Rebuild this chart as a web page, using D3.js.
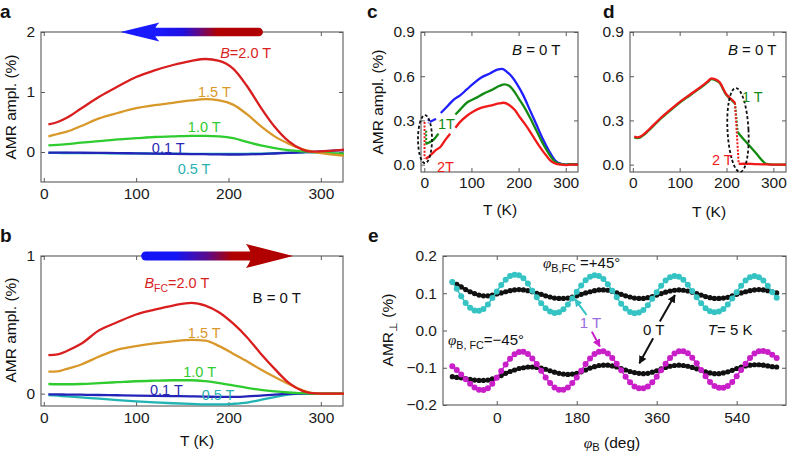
<!DOCTYPE html>
<html><head><meta charset="utf-8">
<script src="https://cdn.jsdelivr.net/npm/d3@7"></script>
<style>
body{margin:0;background:#fff;}
svg{display:block;}
</style></head><body>
<svg id="fig" width="788" height="455"></svg>
<script>
// ---------------- DATA ----------------
// panels a & b : temperature grid (K)
const tempAB = [5,15,25,40,60,80,100,120,140,160,175,190,205,220,235,250,265,280,290,300,310,325];
// panel a : AMR amplitude (%) in field B
const a_2_0 = [0.46,0.50,0.57,0.72,0.92,1.09,1.25,1.36,1.45,1.52,1.55,1.52,1.39,1.10,0.74,0.42,0.18,0.04,0.005,0.01,0.02,0.04];
const a_1_5 = [0.26,0.30,0.34,0.43,0.56,0.65,0.73,0.78,0.82,0.86,0.88,0.86,0.79,0.63,0.43,0.26,0.14,0.05,0.01,-0.02,-0.04,-0.06];
const a_1_0 = [0.11,0.12,0.13,0.155,0.18,0.21,0.23,0.25,0.26,0.27,0.27,0.26,0.23,0.17,0.11,0.065,0.03,0.01,0.0,-0.01,-0.02,-0.03];
const a_0_1 = [-0.01,-0.01,-0.01,-0.012,-0.015,-0.018,-0.022,-0.026,-0.03,-0.034,-0.037,-0.04,-0.042,-0.04,-0.034,-0.025,-0.014,-0.005,0,0.01,0.02,0.03];
const a_0_5 = [-0.015,-0.016,-0.017,-0.018,-0.02,-0.022,-0.024,-0.026,-0.028,-0.03,-0.031,-0.032,-0.032,-0.03,-0.026,-0.02,-0.012,-0.005,0,-0.01,-0.02,-0.035];
// panel b : AMR amplitude (%) at B = 0 after field cooling in B_FC
const b_2_0 = [0.28,0.285,0.31,0.36,0.46,0.52,0.575,0.61,0.64,0.66,0.64,0.59,0.51,0.41,0.29,0.18,0.08,0.02,0.003,0,0,0];
const b_1_5 = [0.16,0.162,0.18,0.21,0.27,0.32,0.345,0.365,0.38,0.39,0.385,0.345,0.29,0.235,0.175,0.12,0.07,0.025,0.005,0,0,0];
const b_1_0 = [0.07,0.068,0.068,0.07,0.076,0.083,0.09,0.094,0.097,0.097,0.09,0.077,0.06,0.042,0.027,0.016,0.008,0.003,0,0,0,0];
const b_0_1 = [-0.005,-0.006,-0.007,-0.008,-0.01,-0.012,-0.014,-0.016,-0.018,-0.02,-0.022,-0.024,-0.024,-0.02,-0.014,-0.007,-0.002,0,0,0,0,0];
const b_0_5 = [-0.01,-0.015,-0.02,-0.027,-0.037,-0.047,-0.056,-0.064,-0.07,-0.075,-0.078,-0.078,-0.074,-0.065,-0.045,-0.025,-0.008,0,0,0,0,0];
// panel c
const c_blueT  = [12,18,25,30,35,50,62,76,90,104,120,140,155,165,175,185,196,210,224,238,252,265,277,290,300,310,326];
const c_blue   = [0.29,0.30,0.31,null,0.35,0.40,0.44,0.47,0.51,0.55,0.59,0.62,0.645,0.65,0.63,0.60,0.55,0.47,0.37,0.27,0.17,0.09,0.03,0.005,0,0.004,0.002];
const c_greenT = [3,10,20,30,45,66,75,90,108,125,145,160,170,180,190,200,212,224,238,252,265,277,290,300,310,326];
const c_green  = [0.14,0.15,0.17,0.21,null,0.34,0.37,0.42,0.45,0.48,0.51,0.535,0.545,0.535,0.50,0.45,0.39,0.32,0.23,0.14,0.07,0.02,0.003,0,0.003,0];
const c_redT   = [3,8,15,25,34,45,55,60,66,76,90,104,120,140,158,168,180,192,203,217,231,245,259,270,280,290,300,310,326];
const c_red    = [0.04,0.05,0.07,0.10,0.12,0.17,0.21,null,0.25,0.29,0.33,0.36,0.385,0.40,0.415,0.42,0.405,0.37,0.32,0.26,0.19,0.12,0.06,0.02,0.005,0,-0.003,0,0];
const c_jumpT    = [0.5,4,9];        // red, green, blue low-T jumps (dotted)
const c_jumpFrom = [0.29,0.23,0.31];
const c_jumpTo   = [0.04,0.14,0.28];
// panel d
const d_T    = [3,10,16,25,35,44,60,79,97,115,133,150,160,168,175,185,199,210,218];
const d_main = [0.19,0.185,0.19,0.21,0.24,0.268,0.318,0.37,0.418,0.46,0.50,0.54,0.565,0.585,0.58,0.56,0.48,0.445,0.42];
const d_redDropT = [218,226], d_redDrop = [0.42,0.005];
const d_grnDropT = [218,224], d_grnDrop = [0.42,0.22];
const d_redTailT = [226,240,260,280,300,327], d_redTail = [0.005,0.006,0.004,0.002,0,0];
const d_grnTailT = [224,237,250,265,277,285,300,327], d_grnTail = [0.22,0.17,0.125,0.07,0.025,0.005,0,0];
// panel e : AMR_perp (%) vs phi_B (deg), 10 deg steps from -100 to 630
const phiB = d3.range(-100, 631, 10);
const e_cyan = [
 0.130,0.112,0.092,0.074,0.061,0.054,0.053,0.058,0.070,0.087,
 0.105,0.122,0.136,0.146,0.150,0.148,0.140,0.126,0.107,0.089,
 0.073,0.060,0.051,0.047,0.049,0.057,0.070,0.086,0.104,0.121,
 0.135,0.144,0.148,0.146,0.138,0.124,0.107,0.089,0.072,0.059,
 0.050,0.046,0.048,0.055,0.068,0.085,0.103,0.120,0.134,0.143,
 0.146,0.144,0.136,0.123,0.106,0.089,0.073,0.060,0.052,0.049,
 0.051,0.058,0.070,0.086,0.103,0.120,0.134,0.143,0.146,0.143,
 0.134,0.120,0.103,0.088];
const e_blackUp = [
 0.130,0.124,0.117,0.110,0.104,0.099,0.095,0.093,0.093,0.095,
 0.098,0.101,0.104,0.107,0.109,0.110,0.109,0.107,0.104,0.100,
 0.097,0.093,0.090,0.087,0.086,0.086,0.087,0.090,0.093,0.097,
 0.101,0.104,0.107,0.109,0.109,0.108,0.105,0.101,0.097,0.093,
 0.090,0.087,0.086,0.086,0.088,0.091,0.095,0.099,0.103,0.106,
 0.108,0.109,0.108,0.106,0.103,0.099,0.095,0.091,0.088,0.086,
 0.086,0.087,0.089,0.093,0.097,0.101,0.104,0.107,0.109,0.110,
 0.109,0.107,0.104,0.101];
const e_magenta = [
 -0.096,-0.106,-0.118,-0.131,-0.143,-0.153,-0.159,-0.160,-0.155,-0.143,
 -0.127,-0.109,-0.091,-0.076,-0.064,-0.058,-0.057,-0.063,-0.075,-0.090,
 -0.108,-0.126,-0.141,-0.153,-0.159,-0.159,-0.153,-0.141,-0.126,-0.108,
 -0.090,-0.075,-0.063,-0.057,-0.056,-0.062,-0.074,-0.089,-0.107,-0.124,
 -0.139,-0.150,-0.155,-0.155,-0.150,-0.139,-0.124,-0.107,-0.089,-0.074,
 -0.062,-0.056,-0.056,-0.061,-0.073,-0.088,-0.106,-0.123,-0.138,-0.149,
 -0.154,-0.154,-0.149,-0.138,-0.123,-0.106,-0.089,-0.074,-0.062,-0.056,
 -0.055,-0.058,-0.065,-0.074];
const e_blackLow = [
 -0.124,-0.126,-0.127,-0.129,-0.131,-0.133,-0.134,-0.134,-0.133,-0.130,
 -0.126,-0.121,-0.115,-0.110,-0.106,-0.102,-0.100,-0.098,-0.098,-0.099,
 -0.101,-0.104,-0.108,-0.112,-0.115,-0.117,-0.118,-0.117,-0.115,-0.111,
 -0.106,-0.101,-0.097,-0.094,-0.093,-0.093,-0.095,-0.098,-0.102,-0.106,
 -0.110,-0.113,-0.115,-0.116,-0.115,-0.112,-0.108,-0.103,-0.099,-0.096,
 -0.094,-0.093,-0.094,-0.096,-0.099,-0.103,-0.107,-0.111,-0.114,-0.116,
 -0.116,-0.114,-0.111,-0.107,-0.102,-0.098,-0.095,-0.093,-0.092,-0.092,
 -0.093,-0.095,-0.097,-0.098];
// tick values
const tTicks = [0,100,200,300];
const aYTicks = [0,1,2];
const bYTicks = [0,1];
const cdYTicks = [0,0.3,0.6,0.9];
const eXTicks = [0,180,360,540];
const eYTicks = [-0.2,-0.1,0,0.1,0.2];

// ---------------- DRAWING ----------------
const FF = '"Liberation Sans", Arial, Helvetica, sans-serif';
const SERIF = '"Liberation Serif", "DejaVu Serif", serif';
const FRAME = "#5a5a5a";
const TICK = 15.5, LAB = 14.5;
const svg = d3.select("#fig").attr("font-family", FF);
const defs = svg.append("defs");

function makePanel(box, xd, yd, xt, yt, xf, yf, xpad) {
  const x = d3.scaleLinear().domain(xd).range([box.l, box.r]);
  const y = d3.scaleLinear().domain(yd).range([box.b, box.t]);
  const g = svg.append("g");
  const style = (s, keep) => {
    s.select(".domain").remove();
    s.attr("font-family", null).attr("font-size", null);
    s.selectAll(".tick line").attr("stroke", FRAME).attr("stroke-width", 1);
    if (keep) s.selectAll("text").attr("font-size", TICK).attr("fill", "#1a1a1a").attr("font-family", FF);
    else s.selectAll("text").remove();
  };
  g.append("g").attr("transform", `translate(0,${box.b})`)
    .call(d3.axisBottom(x).tickValues(xt).tickFormat(xf).tickSizeInner(-4).tickSizeOuter(0).tickPadding(xpad)).call(s => style(s, true));
  g.append("g").attr("transform", `translate(0,${box.t})`)
    .call(d3.axisTop(x).tickValues(xt).tickSizeInner(-4).tickSizeOuter(0)).call(s => style(s, false));
  g.append("g").attr("transform", `translate(${box.l},0)`)
    .call(d3.axisLeft(y).tickValues(yt).tickFormat(yf).tickSizeInner(-4).tickSizeOuter(0).tickPadding(6)).call(s => style(s, true));
  g.append("g").attr("transform", `translate(${box.r},0)`)
    .call(d3.axisRight(y).tickValues(yt).tickSizeInner(-4).tickSizeOuter(0)).call(s => style(s, false));
  g.append("rect").attr("x", box.l).attr("y", box.t).attr("width", box.r - box.l).attr("height", box.b - box.t)
    .attr("fill", "none").attr("stroke", FRAME).attr("stroke-width", 1.1);
  return {x, y, g, box};
}

function curve(p, xs, ys, color, w = 2.3, dash = null, shift = 0) {
  const pts = xs.map((t, i) => [t, ys[i]]);
  const line = d3.line().defined(d => d[1] !== null)
    .x(d => p.x(d[0])).y(d => p.y(d[1]) + shift).curve(d3.curveMonotoneX);
  p.g.append("path").datum(pts).attr("d", line).attr("fill", "none")
    .attr("stroke", color).attr("stroke-width", w).attr("stroke-linejoin", "round")
    .attr("stroke-dasharray", dash);
}

function rich(g, x, y, parts, o = {}) {
  const size = o.size || LAB;
  const subDy = o.subDy !== undefined ? o.subDy : size * 0.28;
  const t = g.append("text").attr("x", x).attr("y", y).attr("font-size", size)
    .attr("fill", o.color || "#111").attr("text-anchor", o.anchor || "start").attr("font-family", FF);
  if (o.transform) t.attr("transform", o.transform);
  let sub = false;
  parts.forEach(p => {
    const s = t.append("tspan").text(p.t);
    if (p.i) s.attr("font-style", "italic");
    if (p.f) s.attr("font-family", p.f);
    if (p.sub) { s.attr("font-size", size * 0.72); if (!sub) { s.attr("dy", subDy); sub = true; } }
    else if (sub) { s.attr("dy", -subDy); sub = false; }
  });
  return t;
}

function letter(s, x, y) {
  svg.append("text").attr("x", x).attr("y", y).text(s).attr("font-size", 19).attr("font-weight", "bold").attr("fill", "#111");
}
function yTitle(parts, cx, cy) {
  rich(svg, 0, 0, parts, {size: TICK, anchor: "middle", transform: `translate(${cx + 5.5},${cy}) rotate(-90)`});
}

const fD = d3.format("d"), f1 = d3.format(".1f");

// ===== panel a =====
const pa = makePanel({l: 41, r: 343, t: 32, b: 182}, [-3, 324], [-0.5, 2], tTicks, aYTicks, fD, fD, 6);
curve(pa, tempAB, a_0_5, "#22b3b3");
curve(pa, tempAB, a_0_1, "#2424b8");
curve(pa, tempAB, a_1_0, "#2fcc2f");
curve(pa, tempAB, a_1_5, "#d9982a");
curve(pa, tempAB, a_2_0, "#d81e1e");
letter("a", 0, 18);
yTitle([{t: "AMR ampl. (%)"}], 10.5, 107);
rich(pa.g, pa.x(191), pa.y(1.56), [{t: "B", i: true}, {t: "=2.0 T"}], {color: "#d81e1e"});
rich(pa.g, pa.x(167), pa.y(0.91), [{t: "1.5 T"}], {color: "#d9982a"});
rich(pa.g, pa.x(156), pa.y(0.34), [{t: "1.0 T"}], {color: "#2fcc2f"});
rich(pa.g, pa.x(117), pa.y(-0.01), [{t: "0.1 T"}], {color: "#2a2ab0"});
rich(pa.g, pa.x(145), pa.y(-0.36), [{t: "0.5 T"}], {color: "#2ab0b0"});
// arrow a (cooling direction: right -> left)
{
  const yA = pa.y(2), xTail = pa.x(237), xTip = pa.x(83), xBack = pa.x(122);
  const gr = defs.append("linearGradient").attr("id", "gA").attr("gradientUnits", "userSpaceOnUse")
    .attr("x1", xTail).attr("x2", xBack).attr("y1", 0).attr("y2", 0);
  [[0, "#b00000"], [0.42, "#b00000"], [0.62, "#5a0a90"], [0.75, "#2010e0"], [1, "#1a1aff"]]
    .forEach(s => gr.append("stop").attr("offset", s[0]).attr("stop-color", s[1]));
  pa.g.append("line").attr("x1", xBack - 4).attr("x2", xTail - 4).attr("y1", yA).attr("y2", yA)
    .attr("stroke", "url(#gA)").attr("stroke-width", 8.5).attr("stroke-linecap", "round");
  pa.g.append("path").attr("d", `M${xTip},${yA} L${xBack + 3},${yA - 9.5} Q${xBack - 7},${yA} ${xBack + 3},${yA + 9.5} Z`)
    .attr("fill", "#1a1aff");
}

// ===== panel b =====
const pb = makePanel({l: 41, r: 343, t: 256, b: 406}, [-3, 324], [-0.09, 1], tTicks, bYTicks, fD, fD, 6);
curve(pb, tempAB, b_0_5, "#22b3b3");
curve(pb, tempAB, b_0_1, "#2424b8");
curve(pb, tempAB, b_1_0, "#2fcc2f");
curve(pb, tempAB, b_1_5, "#d9982a");
curve(pb, tempAB, b_2_0, "#d81e1e");
letter("b", 0, 242);
yTitle([{t: "AMR ampl. (%)"}], 10.5, 330);
rich(svg, 197, 446, [{t: "T (K)"}], {size: TICK, anchor: "middle"});
rich(pb.g, pb.x(109), pb.y(0.767), [{t: "B", i: true}, {t: "FC", sub: true}, {t: "=2.0 T"}], {color: "#d81e1e"});
rich(pb.g, pb.x(226), pb.y(0.658), [{t: "B = 0  T"}], {size: 15});
rich(pb.g, pb.x(156), pb.y(0.404), [{t: "1.5 T"}], {color: "#d9982a"});
rich(pb.g, pb.x(151), pb.y(0.123), [{t: "1.0 T"}], {color: "#2fcc2f"});
rich(pb.g, pb.x(115), pb.y(-0.01), [{t: "0.1 T"}], {color: "#2a2ab0"});
rich(pb.g, pb.x(171), pb.y(-0.047), [{t: "0.5 T"}], {color: "#2ab0b0"});
// arrow b (warming direction: left -> right)
{
  const yB = pb.y(1), xTail = pb.x(106), xTip = pb.x(270), xBack = pb.x(221);
  const gr = defs.append("linearGradient").attr("id", "gB").attr("gradientUnits", "userSpaceOnUse")
    .attr("x1", xTail).attr("x2", xBack).attr("y1", 0).attr("y2", 0);
  [[0, "#1414f5"], [0.32, "#1414f5"], [0.62, "#5a0a8a"], [0.85, "#b00000"], [1, "#b00000"]]
    .forEach(s => gr.append("stop").attr("offset", s[0]).attr("stop-color", s[1]));
  pb.g.append("line").attr("x1", xTail + 4).attr("x2", xBack + 4).attr("y1", yB).attr("y2", yB)
    .attr("stroke", "url(#gB)").attr("stroke-width", 9).attr("stroke-linecap", "round");
  pb.g.append("path").attr("d", `M${xTip},${yB} L${xBack - 2},${yB - 12} Q${xBack + 8},${yB} ${xBack - 2},${yB + 12} Z`)
    .attr("fill", "#b00000");
}

// ===== panel c =====
const pc = makePanel({l: 421, r: 578, t: 32, b: 172}, [-7, 326], [-0.05, 0.9], tTicks, cdYTicks, fD, f1, 5);
curve(pc, c_blueT, c_blue, "#1f1fff");
curve(pc, c_greenT, c_green, "#138a13");
curve(pc, c_redT, c_red, "#f01a1a");
["#f01a1a", "#138a13", "#1f1fff"].forEach((col, i) =>
  curve(pc, [c_jumpT[i], c_jumpT[i]], [c_jumpFrom[i], c_jumpTo[i]], col, 2, "2,1.6"));
pc.g.append("ellipse").attr("cx", pc.x(1.5)).attr("cy", pc.y(0.173)).attr("rx", 7).attr("ry", 24)
  .attr("fill", "none").attr("stroke", "#111").attr("stroke-width", 1.8).attr("stroke-dasharray", "3,2.2");
letter("c", 367, 18);
yTitle([{t: "AMR ampl. (%)"}], 377, 102);
rich(svg, 500, 215, [{t: "T (K)"}], {size: TICK, anchor: "middle"});
rich(pc.g, pc.x(186), pc.y(0.744), [{t: "B", i: true}, {t: " = 0  T"}], {size: 15});
rich(pc.g, pc.x(29), pc.y(0.245), [{t: "1T"}], {color: "#138a13"});
rich(pc.g, pc.x(27), pc.y(-0.05), [{t: "2T"}], {color: "#f01a1a"});

// ===== panel d =====
const pd = makePanel({l: 630, r: 786, t: 32, b: 172}, [-6, 327], [-0.05, 0.9], tTicks, cdYTicks, fD, f1, 5);
curve(pd, d_T, d_main, "#138a13", 2.3, null, 0.7);
curve(pd, d_grnDropT, d_grnDrop, "#138a13", 2, "2,1.6");
curve(pd, d_grnTailT, d_grnTail, "#138a13");
curve(pd, d_T, d_main, "#f01a1a");
curve(pd, d_redDropT, d_redDrop, "#f01a1a", 2, "2,1.6");
curve(pd, d_redTailT, d_redTail, "#f01a1a");
pd.g.append("ellipse").attr("cx", pd.x(224.5)).attr("cy", pd.y(0.235)).attr("rx", 10.5).attr("ry", 42)
  .attr("transform", `rotate(-3,${pd.x(224.5)},${pd.y(0.235)})`)
  .attr("fill", "none").attr("stroke", "#111").attr("stroke-width", 1.8).attr("stroke-dasharray", "3,2.2");
letter("d", 603, 18);
rich(svg, 709, 217, [{t: "T (K)"}], {size: TICK, anchor: "middle"});
rich(pd.g, pd.x(203), pd.y(0.744), [{t: "B", i: true}, {t: " = 0  T"}], {size: 15});
rich(pd.g, pd.x(233), pd.y(0.427), [{t: "1 T"}], {color: "#138a13"});
rich(pd.g, pd.x(169), pd.y(-0.003), [{t: "2 T"}], {color: "#f01a1a"});

// ===== panel e =====
const pe = makePanel({l: 443, r: 786, t: 256, b: 405}, [-121, 651], [-0.2, 0.2], eXTicks, eYTicks, fD, f1, 7);
function beads(p, xs, ys, color, r, lw) {
  const pts = xs.map((t, i) => [t, ys[i]]);
  if (lw) p.g.append("path").datum(pts).attr("d", d3.line().x(d => p.x(d[0])).y(d => p.y(d[1])).curve(d3.curveMonotoneX))
    .attr("fill", "none").attr("stroke", color).attr("stroke-width", lw);
  p.g.append("g").selectAll("circle").data(pts).join("circle")
    .attr("cx", d => p.x(d[0])).attr("cy", d => p.y(d[1])).attr("r", r).attr("fill", color);
}
beads(pe, phiB, e_blackUp, "#111", 2.6, 2.8);
beads(pe, phiB, e_blackLow, "#111", 2.6, 2.8);
beads(pe, phiB, e_cyan, "#35c3c3", 3, 1.5);
beads(pe, phiB, e_magenta, "#c91fc9", 3, 1.5);
letter("e", 368, 242);
yTitle([{t: "AMR"}, {t: "⊥", sub: true}, {t: " (%)"}], 387, 330);
rich(svg, 612, 448, [{t: "φ", i: true, f: SERIF}, {t: "B", sub: true}, {t: " (deg)"}], {size: TICK, anchor: "middle", subDy: 3});
rich(pe.g, pe.x(104), pe.y(0.168), [{t: "φ", i: true, f: SERIF}, {t: "B,FC", sub: true}, {t: " =+45°"}], {size: 15});
rich(pe.g, pe.x(-110), pe.y(-0.039), [{t: "φ", i: true, f: SERIF}, {t: "B, FC", sub: true}, {t: "=−45°"}], {size: 15});
rich(pe.g, pe.x(187), pe.y(0.007), [{t: "1 T"}], {color: "#9a6ee0", size: 15});
rich(pe.g, pe.x(329), pe.y(-0.013), [{t: "0 T"}], {size: 15});
rich(pe.g, pe.x(475), pe.y(-0.013), [{t: "T", i: true}, {t: "= 5 K"}], {size: 15});
function arrowE(p, x1, y1, x2, y2, color, id) {
  defs.append("marker").attr("id", id).attr("viewBox", "0 0 10 10").attr("refX", 9).attr("refY", 5)
    .attr("markerUnits", "userSpaceOnUse").attr("markerWidth", 8).attr("markerHeight", 8).attr("orient", "auto")
    .append("path").attr("d", "M0,0 L10,5 L0,10 z").attr("fill", color);
  p.g.append("line").attr("x1", p.x(x1)).attr("y1", p.y(y1)).attr("x2", p.x(x2)).attr("y2", p.y(y2))
    .attr("stroke", color).attr("stroke-width", 2).attr("marker-end", `url(#${id})`);
}
arrowE(pe, 202, 0.042, 176, 0.084, "#35c3c3", "mc");
arrowE(pe, 214, -0.003, 232, -0.043, "#c91fc9", "mm");
arrowE(pe, 367, 0.024, 401, 0.095, "#111", "mk1");
arrowE(pe, 352, -0.021, 321, -0.088, "#111", "mk2");
</script></body></html>
